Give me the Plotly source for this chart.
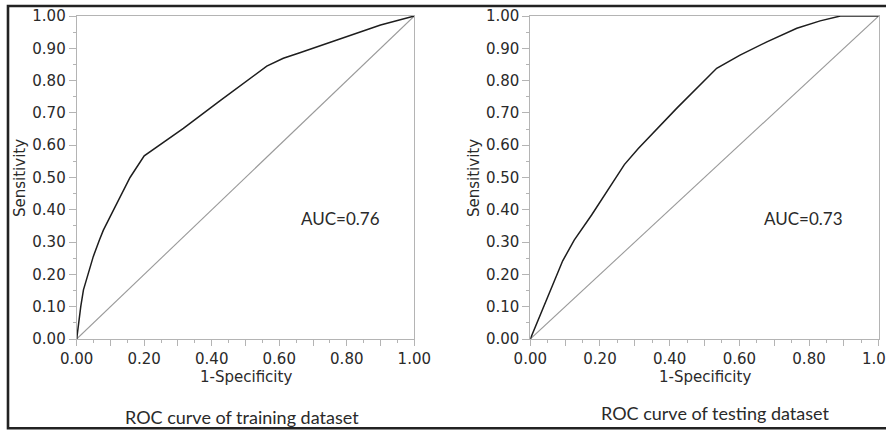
import plotly.graph_objects as go

W, H = 886, 430

# ---- data ----
train_fpr = [0.0, 0.005, 0.012, 0.02, 0.049, 0.067, 0.079, 0.104, 0.158, 0.20, 0.316, 0.424, 0.533, 0.563, 0.612, 0.661, 0.90, 1.0]
train_tpr = [0.0, 0.05, 0.10, 0.152, 0.255, 0.306, 0.337, 0.389, 0.50, 0.567, 0.652, 0.737, 0.822, 0.845, 0.869, 0.886, 0.972, 1.0]

test_fpr = [0.0, 0.093, 0.126, 0.176, 0.27, 0.31, 0.42, 0.535, 0.602, 0.679, 0.765, 0.832, 0.89, 1.0]
test_tpr = [0.0, 0.242, 0.306, 0.384, 0.54, 0.59, 0.714, 0.838, 0.879, 0.920, 0.962, 0.985, 1.0, 1.0]

ref_line = [0.0, 1.0]

y_tickvals = [0.0, 0.1, 0.2, 0.3, 0.4, 0.5, 0.6, 0.7, 0.8, 0.9, 1.0]
y_ticktext = ["0.00", "0.10", "0.20", "0.30", "0.40", "0.50", "0.60", "0.70", "0.80", "0.90", "1.00"]
x_tickvals = [0.0, 0.1, 0.2, 0.3, 0.4, 0.5, 0.6, 0.7, 0.8, 0.9, 1.0]
x_ticktext = ["0.00", "", "0.20", "", "0.40", "", "0.60", "", "0.80", "", "1.00"]

auc_labels = ["AUC=0.76", "AUC=0.73"]
captions = ["ROC curve of training dataset", "ROC curve of testing dataset"]
x_title = "1-Specificity"
y_title = "Sensitivity"

# ---- layout helpers ----
def px(x):
    return x / W

def py(y):
    return 1 - y / H

dom_x = [[px(76.7), px(414.3)], [px(530.3), px(878.7)]]
dom_y = [py(339), py(16)]

fig = go.Figure()

curves = [(train_fpr, train_tpr), (test_fpr, test_tpr)]
for i, (fx, fy) in enumerate(curves):
    xa = "x" if i == 0 else "x2"
    ya = "y" if i == 0 else "y2"
    fig.add_trace(go.Scatter(x=ref_line, y=ref_line, mode="lines",
                             line=dict(color="#9a9a9a", width=1.1),
                             xaxis=xa, yaxis=ya, showlegend=False, hoverinfo="skip"))
    fig.add_trace(go.Scatter(x=fx, y=fy, mode="lines",
                             line=dict(color="#1e1e1e", width=1.5),
                             xaxis=xa, yaxis=ya, showlegend=False))

tick_font = dict(family="DejaVu Sans", size=15, color="#2a2a2a")

def xaxis_cfg(dom, anchor):
    return dict(domain=dom, anchor=anchor, range=[0, 1], showgrid=False, zeroline=False,
                automargin=False, ticklabeloverflow="allow",
                showline=True, linecolor="#b4b4b4", linewidth=1, mirror=True,
                ticks="outside", ticklen=6, tickcolor="#b4b4b4", tickwidth=1,
                tickmode="array", tickvals=x_tickvals, ticktext=x_ticktext,
                tickfont=tick_font,
                minor=dict(dtick=0.05, tick0=0, ticks="outside", ticklen=3,
                           tickcolor="#b4b4b4", showgrid=False))

def yaxis_cfg(anchor):
    return dict(domain=dom_y, anchor=anchor, range=[0, 1], showgrid=False, zeroline=False,
                automargin=False, ticklabeloverflow="allow",
                showline=True, linecolor="#b4b4b4", linewidth=1, mirror=True,
                ticks="outside", ticklen=7, tickcolor="#b4b4b4", tickwidth=1,
                tickmode="array", tickvals=y_tickvals, ticktext=y_ticktext,
                tickfont=tick_font,
                minor=dict(dtick=0.05, tick0=0, ticks="outside", ticklen=3,
                           tickcolor="#b4b4b4", showgrid=False))

fig.update_layout(
    width=W, height=H,
    margin=dict(l=0, r=0, t=0, b=0, autoexpand=False),
    paper_bgcolor="white", plot_bgcolor="white",
    xaxis=xaxis_cfg(dom_x[0], "y"),
    yaxis=yaxis_cfg("x"),
    xaxis2=xaxis_cfg(dom_x[1], "y2"),
    yaxis2=yaxis_cfg("x2"),
)

annotations = []
title_font = dict(family="DejaVu Sans", size=15, color="#2a2a2a")
cal_font = dict(family="Lato", size=17, color="#2a2a2a")
x_title_x = [245.5, 704.5]
y_title_x = [20, 474]
auc_x = [340, 803]
cap_x = [242, 715]
cap_y = [416.5, 413]
for i in range(2):
    annotations.append(dict(text=x_title, x=px(x_title_x[i]), y=py(377), xref="paper", yref="paper",
                            showarrow=False, xanchor="center", yanchor="middle", font=title_font))
    annotations.append(dict(text=y_title, x=px(y_title_x[i]), y=py(178), xref="paper", yref="paper",
                            showarrow=False, xanchor="center", yanchor="middle", textangle=-90,
                            font=title_font))
    annotations.append(dict(text=auc_labels[i], x=px(auc_x[i]), y=py(218), xref="paper", yref="paper",
                            showarrow=False, xanchor="center", yanchor="middle", font=cal_font))
    annotations.append(dict(text=captions[i], x=px(cap_x[i]), y=py(cap_y[i]), xref="paper", yref="paper",
                            showarrow=False, xanchor="center", yanchor="middle",
                            font=dict(family="Lato", size=18, color="#2a2a2a")))
fig.update_layout(annotations=annotations)

# outer frame (top, left, bottom; open on the right)
frame_path = "M {x1},{yt} L {x0},{yt} L {x0},{yb} L {x1},{yb}".format(
    x0=px(8), x1=1.0, yt=py(6), yb=py(428.3))
fig.add_shape(type="path", xref="paper", yref="paper", path=frame_path,
              line=dict(color="#222222", width=2.6), fillcolor="rgba(0,0,0,0)")

fig.write_html("out.html", config={"displayModeBar": False},
               post_script="document.body.style.margin='0';document.body.style.overflow='hidden';")
